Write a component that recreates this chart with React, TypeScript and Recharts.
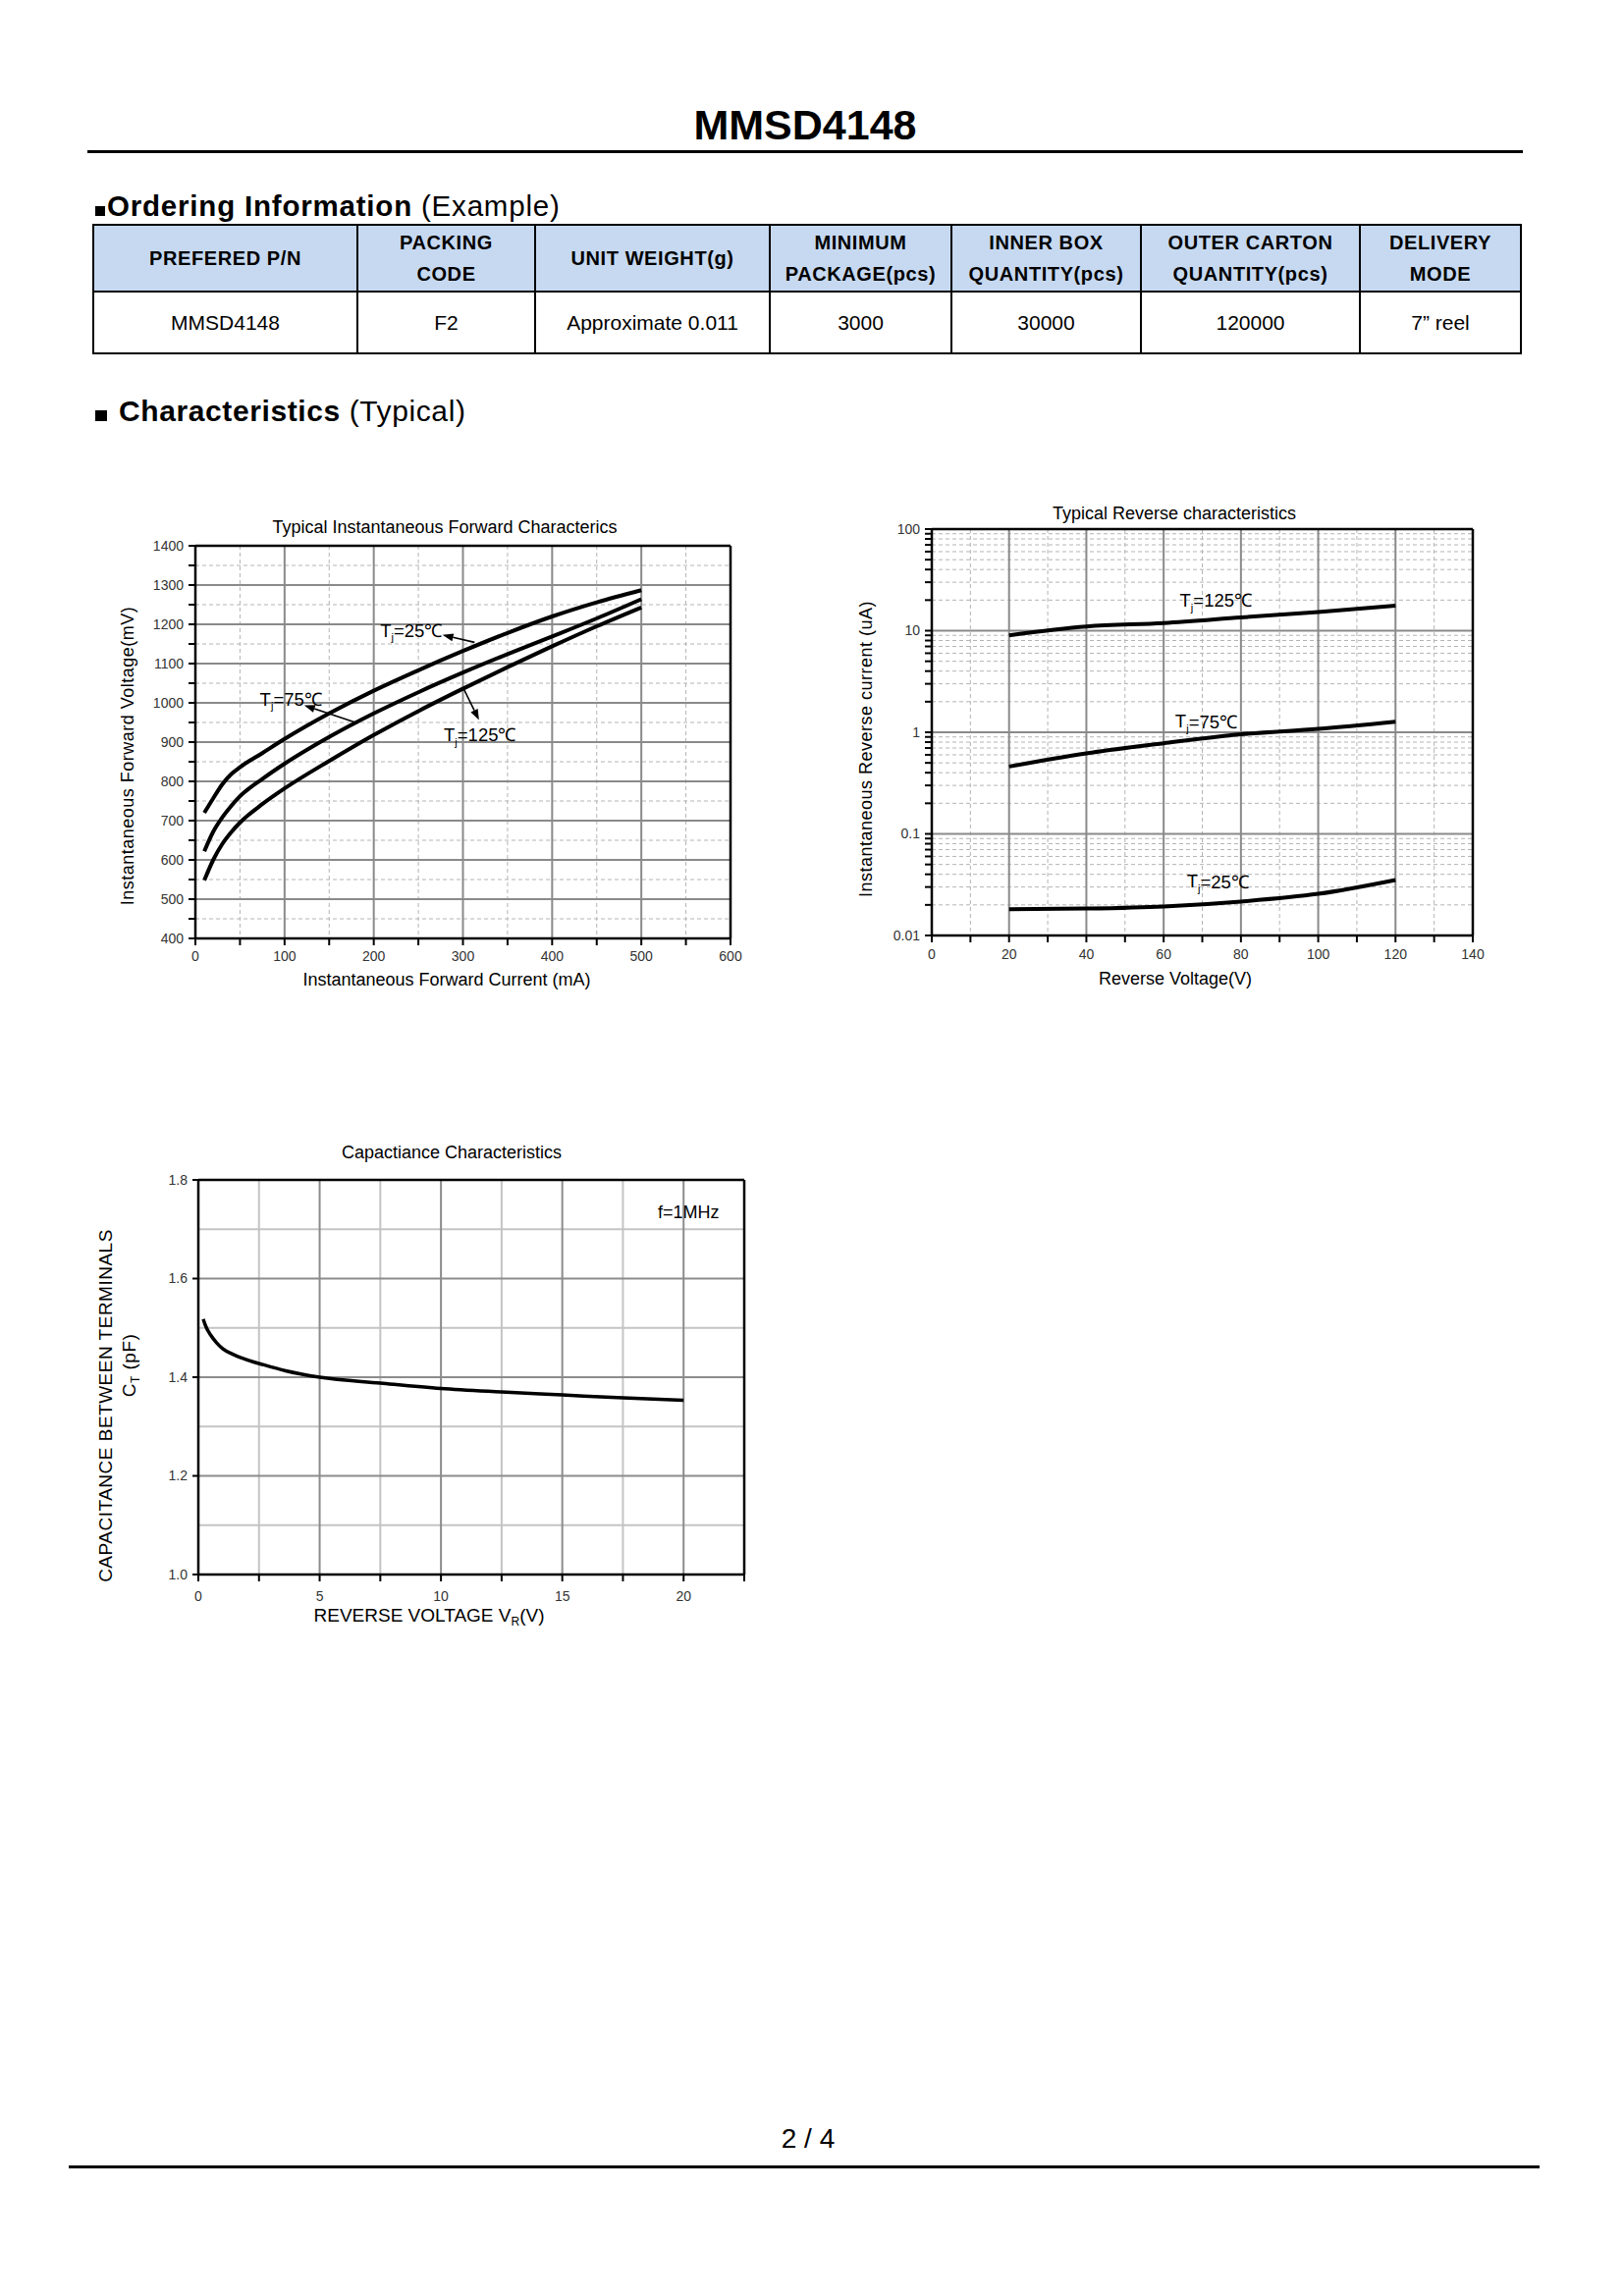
import React from "react";
import {
  LineChart,
  Line,
  XAxis,
  YAxis,
  CartesianGrid,
  ReferenceLine,
  ReferenceDot,
} from "recharts";

const FONT = '"Liberation Sans", Arial, Helvetica, sans-serif';

// ordering information table
const orderHeads = [
  ["PREFERED P/N"],
  ["PACKING", "CODE"],
  ["UNIT WEIGHT(g)"],
  ["MINIMUM", "PACKAGE(pcs)"],
  ["INNER BOX", "QUANTITY(pcs)"],
  ["OUTER CARTON", "QUANTITY(pcs)"],
  ["DELIVERY", "MODE"],
];
const orderRow = ["MMSD4148", "F2", "Approximate 0.011", "3000", "30000", "120000", "7\u201D reel"];
const colWidths = [269, 181, 239, 185, 193, 223, 164];

// forward characteristics: IF (mA) -> VF (mV)
const fwdCurrent = [10, 20, 30, 40, 50, 75, 100, 150, 200, 250, 300, 350, 400, 450, 500];
const fwdV25 = [720, 757, 792, 818, 836, 872, 908, 973, 1031, 1083, 1132, 1178, 1220, 1256, 1287];
const fwdV75 = [622, 672, 708, 737, 762, 806, 845, 913, 973, 1027, 1077, 1124, 1169, 1215, 1264];
const fwdV125 = [548, 600, 640, 670, 695, 742, 782, 852, 918, 979, 1036, 1091, 1144, 1195, 1243];
const fwdXTicks = [0, 50, 100, 150, 200, 250, 300, 350, 400, 450, 500, 550, 600];
const fwdYTicks = [400, 450, 500, 550, 600, 650, 700, 750, 800, 850, 900, 950, 1000, 1050, 1100, 1150, 1200, 1250, 1300, 1350, 1400];
const fwdXMajor = [100, 200, 300, 400, 500];
const fwdXMinor = [50, 150, 250, 350, 450, 550];
const fwdYMajor = [500, 600, 700, 800, 900, 1000, 1100, 1200, 1300];
const fwdYMinor = [450, 550, 650, 750, 850, 950, 1050, 1150, 1250, 1350];
const fwdNotes = [
  { temp: "25\u2103", x: 242, y: 1185, tail: { x: 313, y: 1154 }, head: { x: 277, y: 1173 } },
  { temp: "75\u2103", x: 107, y: 1010, tail: { x: 182, y: 948 }, head: { x: 122, y: 994 } },
  { temp: "125\u2103", x: 319, y: 919, tail: { x: 301, y: 1035 }, head: { x: 318, y: 956 } },
];

// reverse characteristics: VR (V) -> IR (uA)
const revVoltage = [20, 40, 60, 80, 100, 120];
const revI125 = [9.0, 11.0, 11.9, 13.5, 15.3, 17.6];
const revI75 = [0.46, 0.62, 0.78, 0.955, 1.08, 1.27];
const revI25 = [0.0181, 0.0184, 0.0193, 0.0216, 0.0257, 0.0352];
const revXTicks = [0, 10, 20, 30, 40, 50, 60, 70, 80, 90, 100, 110, 120, 130, 140];
const revXMajor = [20, 40, 60, 80, 100, 120];
const revXMinor = [10, 30, 50, 70, 90, 110, 130];
const revYDecades = [0.01, 0.1, 1, 10, 100];
const revYMinor = [
  0.02, 0.03, 0.04, 0.05, 0.06, 0.07, 0.08, 0.09,
  0.2, 0.3, 0.4, 0.5, 0.6, 0.7, 0.8, 0.9,
  2, 3, 4, 5, 6, 7, 8, 9,
  20, 30, 40, 50, 60, 70, 80, 90,
];
const revNotes = [
  { temp: "125\u2103", x: 73.5, y: 20 },
  { temp: "75\u2103", x: 71, y: 1.29 },
  { temp: "25\u2103", x: 74, y: 0.034 },
];

// capacitance: VR (V) -> CT (pF)
const capVoltage = [0.2, 0.3, 0.5, 0.75, 1, 1.4, 1.9, 2.7, 3.6, 5, 7.5, 10, 12.5, 15, 17.5, 20];
const capCt = [1.518, 1.504, 1.486, 1.47, 1.458, 1.447, 1.437, 1.425, 1.413, 1.4, 1.388, 1.377, 1.37, 1.364, 1.358, 1.353];
const capXTicks = [0, 2.5, 5, 7.5, 10, 12.5, 15, 17.5, 20, 22.5];
const capXLabels = [0, 5, 10, 15, 20];
const capYTicks = [1.0, 1.2, 1.4, 1.6, 1.8];
const capXLight = [2.5, 7.5, 12.5, 17.5];
const capXDark = [5, 10, 15, 20];
const capYLight = [1.1, 1.3, 1.5, 1.7];
const capYDark = [1.2, 1.4, 1.6];
const capTopTicks = [2.25, 4.5, 6.75, 9, 11.25, 13.5, 15.75, 18, 20.25];
const capRightTicks = [1.08, 1.16, 1.24, 1.32, 1.4, 1.48, 1.56, 1.64, 1.72];

const tickText = { fontSize: 14, fill: "#333", fontFamily: FONT };
const frame = { stroke: "#000", strokeWidth: 2.5 };
const tickMark = { stroke: "#000", strokeWidth: 2 };

function Txt({ x, y, size, bold, rotate, children }: any) {
  return (
    <div
      style={{
        position: "absolute",
        left: x,
        top: y,
        transform: `translate(-50%, -50%)${rotate ? " rotate(-90deg)" : ""}`,
        fontSize: size,
        fontWeight: bold ? "bold" : "normal",
        lineHeight: 1,
        whiteSpace: "nowrap",
        letterSpacing: rotate ? 0.5 : 0,
      }}
    >
      {children}
    </div>
  );
}

function TjLabel({ cx, cy, temp, size }: any) {
  return (
    <text x={cx} y={cy} textAnchor="middle" dominantBaseline="central" fontFamily={FONT} fontSize={size} fill="#000">
      T
      <tspan fontSize={size * 0.6} dy={size * 0.4}>j</tspan>
      <tspan dy={-size * 0.4}>={temp}</tspan>
    </text>
  );
}

const arrowShape = (p: any) => {
  const { x1, y1, x2, y2 } = p;
  const a = Math.atan2(y2 - y1, x2 - x1);
  const len = 11;
  const half = 4;
  const bx = x2 - len * Math.cos(a);
  const by = y2 - len * Math.sin(a);
  const pts = `${x2},${y2} ${bx + half * Math.sin(a)},${by - half * Math.cos(a)} ${bx - half * Math.sin(a)},${by + half * Math.cos(a)}`;
  return (
    <g>
      <line x1={x1} y1={y1} x2={bx} y2={by} stroke="#000" strokeWidth={1.6} />
      <polygon points={pts} fill="#000" />
    </g>
  );
};

function ForwardChart() {
  const data = fwdCurrent.map((c, i) => ({ c, v25: fwdV25[i], v75: fwdV75[i], v125: fwdV125[i] }));
  return (
    <div style={{ position: "absolute", left: 100, top: 500 }}>
      <LineChart width={670} height={500} data={data} margin={{ top: 56, right: 26, bottom: 14, left: 39 }}>
        <CartesianGrid verticalValues={fwdXMinor} horizontalValues={fwdYMinor} stroke="#b4b4b4" strokeDasharray="4 3" />
        <CartesianGrid verticalValues={fwdXMajor} horizontalValues={fwdYMajor} stroke="#8a8a8a" strokeWidth={2} />
        <Line type="monotone" dataKey="v25" stroke="#000" strokeWidth={4} dot={false} isAnimationActive={false} />
        <Line type="monotone" dataKey="v75" stroke="#000" strokeWidth={4} dot={false} isAnimationActive={false} />
        <Line type="monotone" dataKey="v125" stroke="#000" strokeWidth={4} dot={false} isAnimationActive={false} />
        {fwdNotes.map((n) => (
          <ReferenceLine key={"a" + n.temp} segment={[n.tail, n.head]} shape={arrowShape} />
        ))}
        {fwdNotes.map((n) => (
          <ReferenceDot
            key={"t" + n.temp}
            x={n.x}
            y={n.y}
            r={1}
            shape={(p: any) => <TjLabel cx={p.cx} cy={p.cy} temp={n.temp} size={18.5} />}
          />
        ))}
        <XAxis
          dataKey="c"
          type="number"
          domain={[0, 600]}
          allowDataOverflow
          ticks={fwdXTicks}
          interval={0}
          height={30}
          tickSize={7}
          tickMargin={6}
          tickFormatter={(v: number) => (v % 100 === 0 ? String(v) : "")}
          tick={tickText}
          axisLine={frame}
          tickLine={tickMark}
        />
        <XAxis xAxisId="top" orientation="top" mirror type="number" domain={[0, 600]} allowDataOverflow ticks={fwdXTicks} interval={0} tick={false} tickSize={6} axisLine={frame} tickLine={tickMark} />
        <YAxis
          type="number"
          domain={[400, 1400]}
          allowDataOverflow
          ticks={fwdYTicks}
          interval={0}
          width={60}
          tickSize={7}
          tickMargin={5}
          tickFormatter={(v: number) => (v % 100 === 0 ? String(v) : "")}
          tick={tickText}
          axisLine={frame}
          tickLine={tickMark}
        />
        <YAxis yAxisId="right" orientation="right" mirror type="number" domain={[400, 1400]} allowDataOverflow ticks={fwdYTicks} interval={0} tick={false} tickSize={6} axisLine={frame} tickLine={tickMark} />
      </LineChart>
    </div>
  );
}

function ReverseChart() {
  const data = revVoltage.map((v, i) => ({ v, i125: revI125[i], i75: revI75[i], i25: revI25[i] }));
  const yTicks = [...revYDecades, ...revYMinor].sort((a, b) => a - b);
  return (
    <div style={{ position: "absolute", left: 860, top: 490 }}>
      <LineChart width={666} height={503} data={data} margin={{ top: 49, right: 26, bottom: 10, left: 34 }}>
        <CartesianGrid verticalValues={revXMinor} horizontalValues={revYMinor} stroke="#b4b4b4" strokeDasharray="4 3" />
        <CartesianGrid verticalValues={revXMajor} horizontalValues={[0.1, 1, 10]} stroke="#8a8a8a" strokeWidth={2} />
        <Line type="monotone" dataKey="i125" stroke="#000" strokeWidth={4} dot={false} isAnimationActive={false} />
        <Line type="monotone" dataKey="i75" stroke="#000" strokeWidth={4} dot={false} isAnimationActive={false} />
        <Line type="monotone" dataKey="i25" stroke="#000" strokeWidth={4} dot={false} isAnimationActive={false} />
        {revNotes.map((n) => (
          <ReferenceDot
            key={n.temp}
            x={n.x}
            y={n.y}
            r={1}
            shape={(p: any) => <TjLabel cx={p.cx} cy={p.cy} temp={n.temp} size={18.5} />}
          />
        ))}
        <XAxis
          dataKey="v"
          type="number"
          domain={[0, 140]}
          allowDataOverflow
          ticks={revXTicks}
          interval={0}
          height={30}
          tickSize={7}
          tickMargin={7}
          tickFormatter={(v: number) => (v % 20 === 0 ? String(v) : "")}
          tick={tickText}
          axisLine={frame}
          tickLine={tickMark}
        />
        <XAxis xAxisId="top" orientation="top" mirror type="number" domain={[0, 140]} allowDataOverflow ticks={revXTicks} interval={0} tick={false} tickSize={6} axisLine={frame} tickLine={tickMark} />
        <YAxis
          type="number"
          scale="log"
          domain={[0.01, 100]}
          allowDataOverflow
          ticks={yTicks}
          interval={0}
          width={55}
          tickSize={7}
          tickMargin={5}
          tickFormatter={(v: number) => (revYDecades.includes(v) ? String(v) : "")}
          tick={tickText}
          axisLine={frame}
          tickLine={tickMark}
        />
        <YAxis yAxisId="right" orientation="right" mirror type="number" scale="log" domain={[0.01, 100]} allowDataOverflow ticks={yTicks} interval={0} tick={false} tickSize={6} axisLine={frame} tickLine={tickMark} />
      </LineChart>
    </div>
  );
}

function CapChart() {
  const data = capVoltage.map((v, i) => ({ v, ct: capCt[i] }));
  return (
    <div style={{ position: "absolute", left: 100, top: 1150 }}>
      <LineChart width={684} height={494} data={data} margin={{ top: 52, right: 26, bottom: 10, left: 47 }}>
        <CartesianGrid verticalValues={capXLight} horizontalValues={capYLight} stroke="#c4c4c4" strokeWidth={2} />
        <CartesianGrid verticalValues={capXDark} horizontalValues={capYDark} stroke="#8c8c8c" strokeWidth={2} />
        <Line type="monotone" dataKey="ct" stroke="#000" strokeWidth={3.5} dot={false} isAnimationActive={false} />
        <ReferenceDot
          x={20.2}
          y={1.734}
          r={1}
          shape={(p: any) => (
            <text x={p.cx} y={p.cy} textAnchor="middle" dominantBaseline="central" fontFamily={FONT} fontSize={18} fill="#000">
              f=1MHz
            </text>
          )}
        />
        <XAxis
          dataKey="v"
          type="number"
          domain={[0, 22.5]}
          allowDataOverflow
          ticks={capXTicks}
          interval={0}
          height={30}
          tickSize={7}
          tickMargin={10}
          tickFormatter={(v: number) => (capXLabels.includes(v) ? String(v) : "")}
          tick={tickText}
          axisLine={frame}
          tickLine={tickMark}
        />
        <XAxis xAxisId="top" orientation="top" mirror type="number" domain={[0, 22.5]} allowDataOverflow ticks={capTopTicks} interval={0} tick={false} tickSize={6} axisLine={frame} tickLine={tickMark} />
        <YAxis
          type="number"
          domain={[1.0, 1.8]}
          allowDataOverflow
          ticks={capYTicks}
          interval={0}
          width={55}
          tickSize={6}
          tickMargin={5}
          tickFormatter={(v: number) => v.toFixed(1)}
          tick={tickText}
          axisLine={frame}
          tickLine={tickMark}
        />
        <YAxis yAxisId="right" orientation="right" mirror type="number" domain={[1.0, 1.8]} allowDataOverflow ticks={capRightTicks} interval={0} tick={false} tickSize={6} axisLine={frame} tickLine={tickMark} />
      </LineChart>
    </div>
  );
}

const cellBase: React.CSSProperties = {
  border: "2px solid #000",
  textAlign: "center",
  verticalAlign: "middle",
  padding: 0,
  fontSize: 21,
};

export default function App() {
  return (
    <div style={{ position: "relative", width: 1654, height: 2339, background: "#fff", fontFamily: FONT, color: "#000", overflow: "hidden" }}>
      <style>{"body{margin:0}"}</style>

      <Txt x={820} y={127} size={43} bold>MMSD4148</Txt>
      <div style={{ position: "absolute", left: 89, top: 153, width: 1462, height: 3, background: "#000" }} />

      <div style={{ position: "absolute", left: 97, top: 195, fontSize: 29.5, lineHeight: "30px", whiteSpace: "nowrap" }}>
        <span style={{ display: "inline-block", width: 10, height: 10, background: "#000", marginRight: 2 }} />
        <span style={{ fontWeight: "bold", letterSpacing: 0.8 }}>Ordering Information</span>
        <span style={{ letterSpacing: 0.8 }}> (Example)</span>
      </div>

      <table style={{ position: "absolute", left: 94, top: 228, width: 1454, borderCollapse: "collapse", tableLayout: "fixed" }}>
        <colgroup>
          {colWidths.map((w, i) => (
            <col key={i} style={{ width: w }} />
          ))}
        </colgroup>
        <tbody>
          <tr style={{ height: 68 }}>
            {orderHeads.map((h, i) => (
              <td key={i} style={{ ...cellBase, fontSize: 20, background: "#C6D9F1", fontWeight: "bold", lineHeight: "32px", letterSpacing: 0.6 }}>
                {h.map((line, j) => (
                  <div key={j}>{line}</div>
                ))}
              </td>
            ))}
          </tr>
          <tr style={{ height: 63 }}>
            {orderRow.map((v, i) => (
              <td key={i} style={cellBase}>{v}</td>
            ))}
          </tr>
        </tbody>
      </table>

      <div style={{ position: "absolute", left: 97, top: 404, fontSize: 30, lineHeight: "30px", whiteSpace: "nowrap" }}>
        <span style={{ display: "inline-block", width: 12, height: 11, background: "#000", marginRight: 12 }} />
        <span style={{ fontWeight: "bold", letterSpacing: 0.6 }}>Characteristics</span>
        <span style={{ letterSpacing: 0.6 }}> (Typical)</span>
      </div>

      {/* forward chart */}
      <Txt x={453} y={537} size={18}>Typical Instantaneous Forward Characterics</Txt>
      <Txt x={130} y={770} size={18} rotate>Instantaneous Forward Voltage(mV)</Txt>
      <Txt x={455} y={998} size={18}>Instantaneous Forward Current (mA)</Txt>
      <ForwardChart />

      {/* reverse chart */}
      <Txt x={1196} y={523} size={18}>Typical Reverse characteristics</Txt>
      <Txt x={882} y={763} size={18} rotate>Instantaneous Reverse current (uA)</Txt>
      <Txt x={1197} y={997} size={18}>Reverse Voltage(V)</Txt>
      <ReverseChart />

      {/* capacitance chart */}
      <Txt x={460} y={1174} size={18}>Capactiance Characteristics</Txt>
      <Txt x={107} y={1432} size={19} rotate>CAPACITANCE BETWEEN TERMINALS</Txt>
      <Txt x={133} y={1391} size={19} rotate>
        C<sub style={{ fontSize: 12 }}>T</sub> (pF)
      </Txt>
      <Txt x={437} y={1647} size={19}>
        REVERSE VOLTAGE V<sub style={{ fontSize: 12 }}>R</sub>(V)
      </Txt>
      <CapChart />

      <Txt x={823} y={2179} size={28}>2 / 4</Txt>
      <div style={{ position: "absolute", left: 70, top: 2206, width: 1498, height: 3, background: "#000" }} />
    </div>
  );
}
